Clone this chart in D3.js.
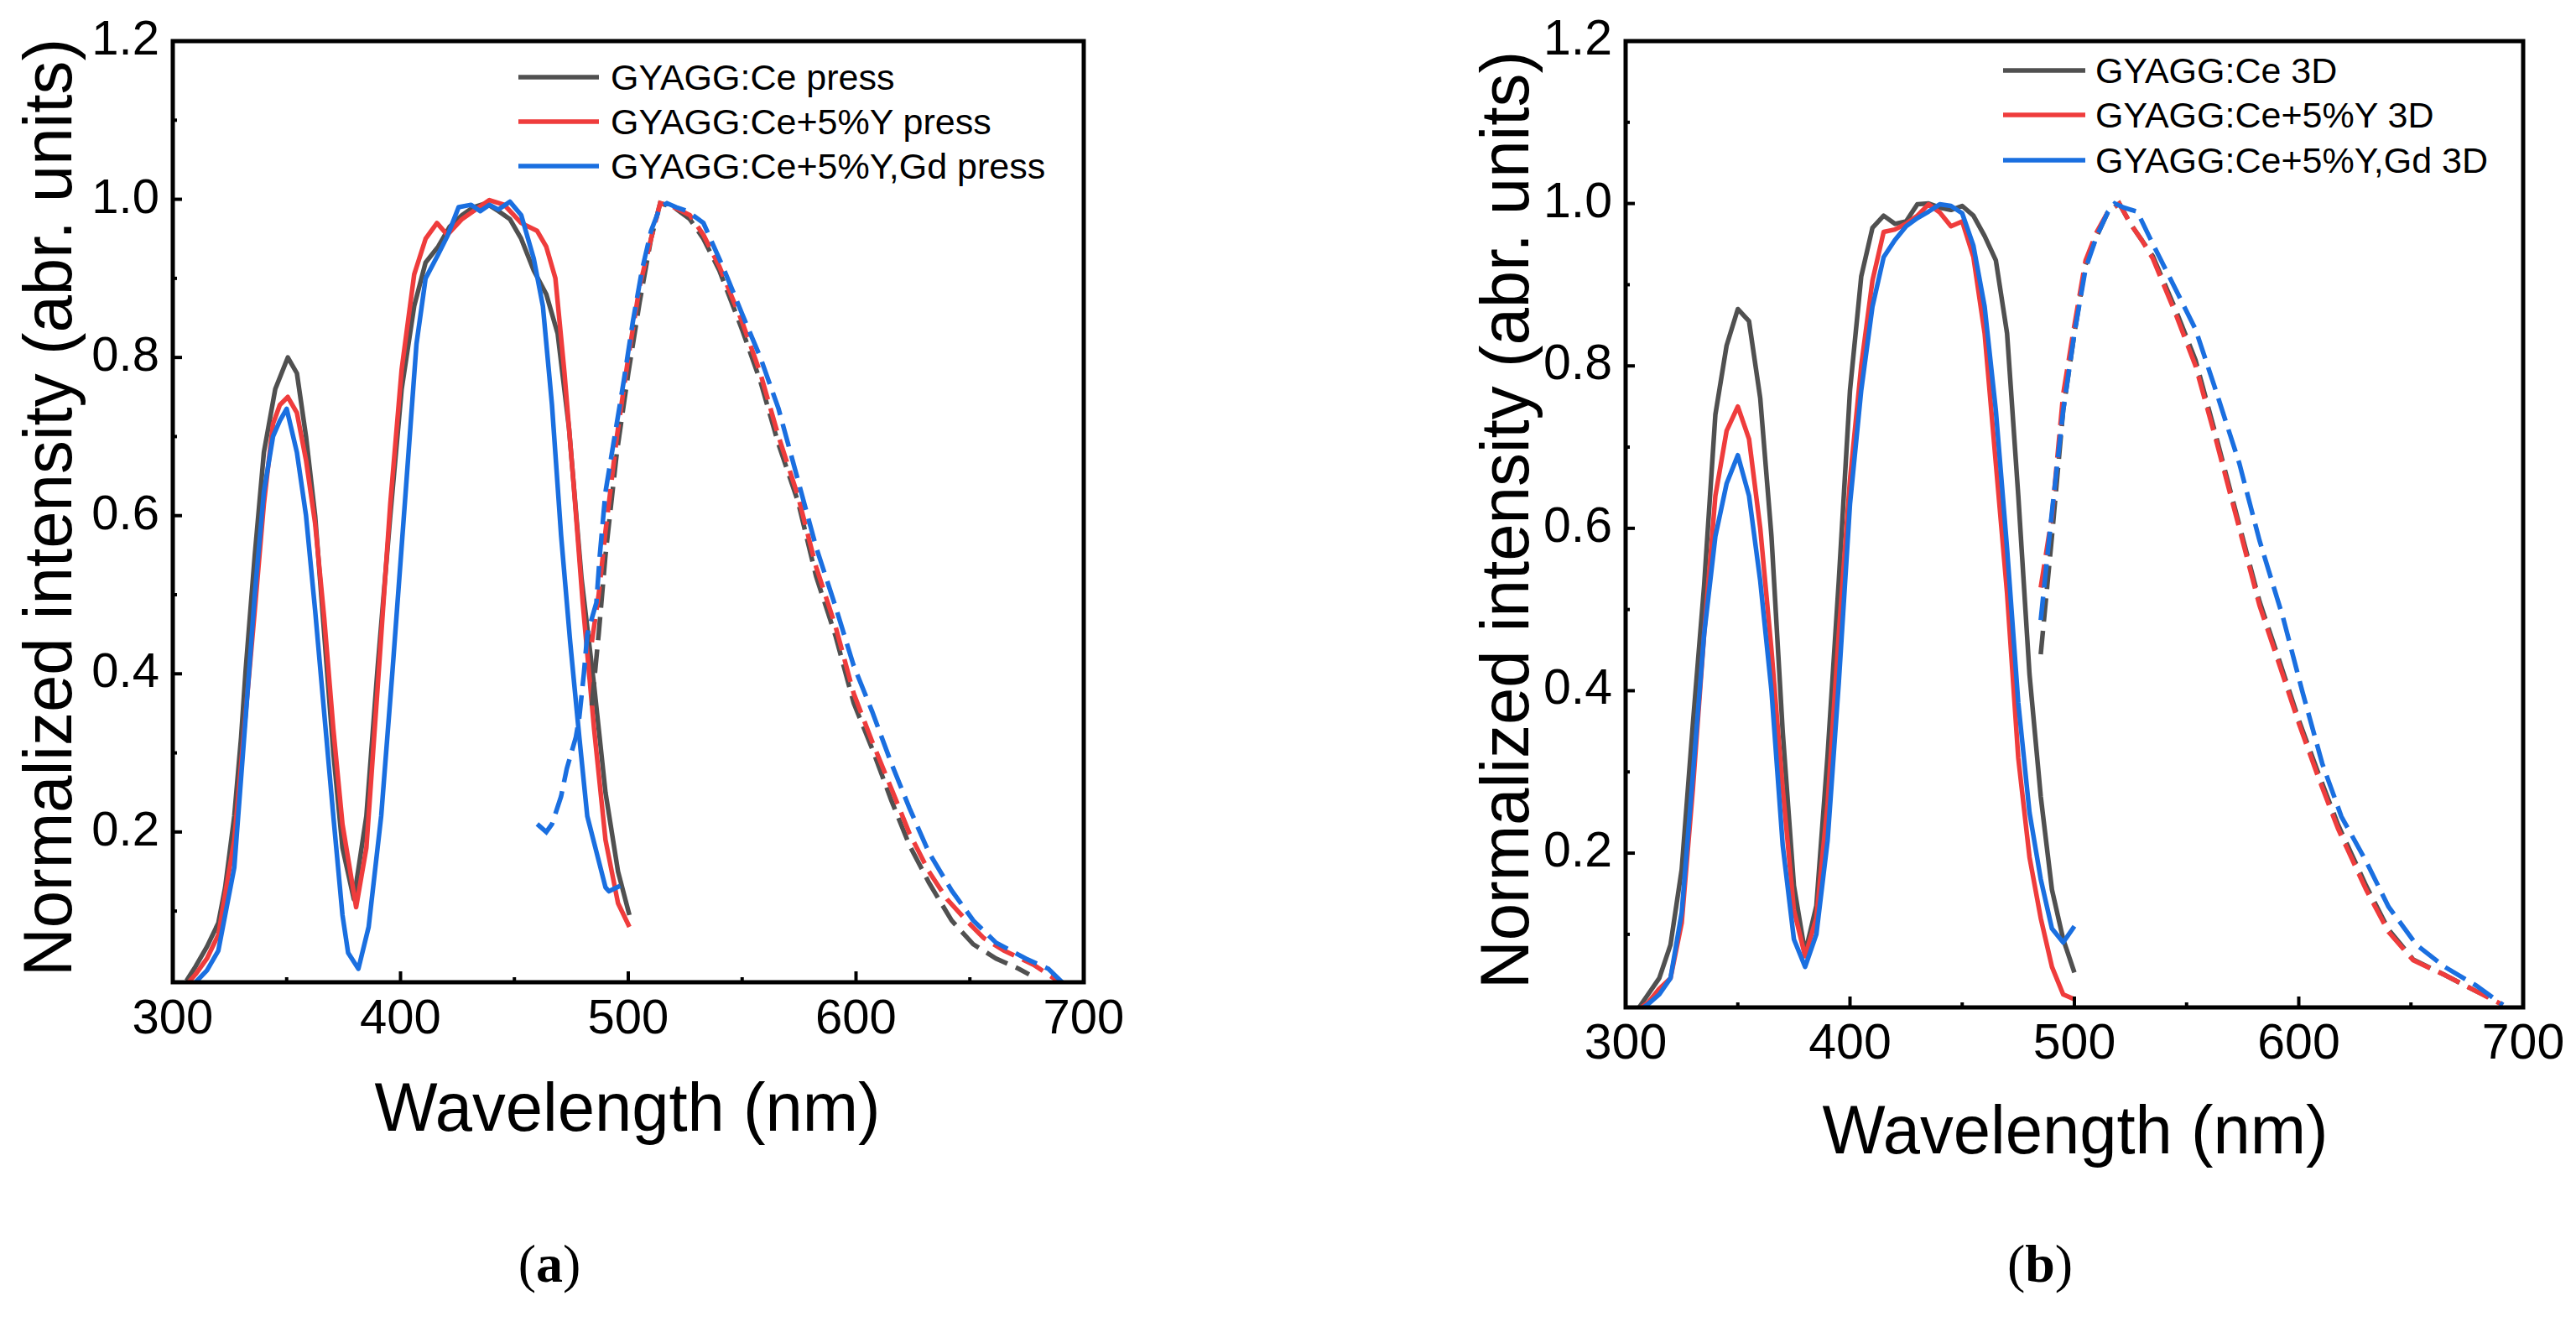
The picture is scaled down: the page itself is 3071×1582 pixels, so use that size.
<!DOCTYPE html>
<html>
<head>
<meta charset="utf-8">
<script src="https://cdn.jsdelivr.net/npm/d3@7"></script>
<style>
  html, body { margin: 0; padding: 0; background: #ffffff; }
  svg { display: block; }
</style>
</head>
<body>
<svg id="chart" width="3071" height="1582"></svg>
<script>
// ---- data: [wavelength nm, normalized intensity] ----
const pressCeExc = [[306,0.012],[310,0.03],[315,0.055],[320,0.085],[323,0.13],[327,0.22],[330,0.32],[332,0.405],[336,0.55],[340,0.68],[345,0.76],[350.5,0.80],[354.5,0.78],[358.5,0.70],[362.5,0.60],[366.5,0.45],[370.5,0.30],[374.5,0.18],[379.5,0.115],[385,0.22],[390,0.41],[395.5,0.60],[400.5,0.76],[406,0.865],[411,0.92],[416.5,0.94],[421.5,0.965],[427,0.98],[432,0.99],[437.5,0.995],[443,0.985],[448,0.975],[453,0.95],[458.5,0.91],[464,0.88],[469,0.83],[474,0.71],[479.5,0.52],[485,0.385],[490,0.25],[495.5,0.15],[500.5,0.095]];
const pressYExc = [[307,0.01],[310,0.02],[315,0.04],[320,0.07],[327,0.19],[332,0.35],[336,0.48],[340,0.615],[344,0.716],[347,0.74],[350.5,0.75],[354.5,0.73],[358.5,0.67],[362.5,0.59],[366.5,0.47],[370.5,0.33],[374.5,0.21],[380.5,0.105],[385,0.18],[390,0.385],[395.5,0.615],[400.5,0.785],[406,0.905],[411,0.95],[416,0.97],[420.5,0.955],[427,0.975],[432,0.985],[439,0.999],[445.5,0.993],[453,0.97],[460,0.96],[464,0.94],[468,0.90],[472,0.78],[476,0.64],[480,0.49],[485,0.33],[490,0.19],[495.5,0.11],[500.5,0.08]];
const pressYGdExc = [[310,0.01],[315,0.025],[320,0.05],[327,0.155],[332,0.345],[336,0.50],[340,0.63],[344,0.70],[347,0.72],[350,0.735],[354.5,0.68],[358.5,0.60],[362.5,0.48],[366.5,0.35],[370.5,0.22],[374.5,0.095],[377,0.047],[381.5,0.027],[386,0.08],[391.5,0.22],[396.5,0.405],[402,0.62],[407,0.817],[411,0.90],[416.5,0.93],[420.5,0.953],[425.5,0.99],[431,0.993],[435,0.985],[439,0.993],[443,0.987],[448,0.997],[453,0.98],[458.5,0.925],[462.5,0.865],[466.5,0.74],[470.5,0.575],[474.5,0.44],[478.5,0.32],[482,0.22],[486,0.175],[490,0.13],[491.5,0.125],[496.5,0.132]];
const pressCeEm = [[484,0.36],[487,0.45],[490,0.55],[495,0.68],[500,0.78],[505,0.87],[510,0.95],[514,0.995],[520,0.99],[527,0.975],[533,0.95],[540,0.91],[550,0.835],[558,0.77],[566,0.69],[574.5,0.618],[582.5,0.523],[591,0.448],[599,0.363],[607,0.306],[615.5,0.24],[623.5,0.183],[632,0.136],[642,0.088],[651.5,0.058],[661.5,0.04],[671.5,0.027],[676,0.02]];
const pressYEm = [[484,0.44],[487,0.50],[490,0.58],[495,0.70],[500,0.80],[505,0.89],[510,0.95],[514,0.995],[520,0.99],[527,0.98],[533,0.955],[540,0.915],[550,0.845],[558,0.78],[566,0.70],[574.5,0.625],[582.5,0.535],[591,0.46],[599,0.375],[607,0.315],[615.5,0.255],[623.5,0.198],[632,0.15],[640,0.115],[648.5,0.088],[656,0.066],[665,0.05],[678,0.032],[688.5,0.012]];
const pressYGdEm = [[460,0.21],[464,0.20],[466.5,0.21],[470.5,0.245],[473,0.28],[477,0.32],[478.5,0.345],[480.5,0.40],[482,0.45],[486,0.49],[487.5,0.55],[490,0.63],[494,0.70],[498,0.77],[502,0.845],[506,0.91],[510,0.96],[514,0.99],[517,0.995],[521,0.99],[526,0.985],[533,0.97],[541.5,0.915],[550,0.855],[558,0.80],[566,0.735],[574.5,0.645],[582.5,0.56],[591,0.485],[599,0.41],[607,0.353],[615.5,0.287],[623.5,0.23],[632,0.174],[642,0.126],[651.5,0.088],[661.5,0.06],[674.5,0.04],[684.5,0.027],[690.5,0.01]];

const d3CeExc = [[306,0.01],[310,0.026],[315,0.046],[320,0.087],[325,0.18],[330,0.36],[335,0.53],[340,0.74],[345,0.825],[350,0.87],[355,0.855],[360,0.76],[365,0.59],[370,0.35],[375,0.16],[380,0.077],[385,0.135],[390,0.32],[395,0.535],[400,0.77],[405,0.91],[410,0.97],[415,0.985],[420,0.975],[425,0.978],[430,0.999],[435,1.0],[440,0.995],[445,0.992],[450,0.997],[455,0.985],[460,0.96],[465,0.93],[470,0.84],[475,0.64],[480,0.42],[485,0.27],[490,0.155],[495,0.094],[500,0.053]];
const d3YExc = [[307,0.01],[310,0.016],[315,0.033],[320,0.046],[325,0.114],[330,0.28],[335,0.47],[340,0.64],[345,0.72],[350,0.75],[355,0.71],[360,0.60],[365,0.45],[370,0.28],[375,0.13],[380,0.073],[385,0.12],[390,0.26],[395,0.47],[400,0.66],[405,0.80],[410,0.905],[415,0.965],[420,0.968],[425,0.975],[430,0.985],[435,0.999],[440,0.989],[445,0.972],[450,0.978],[455,0.934],[460,0.84],[465,0.68],[470,0.52],[475,0.317],[480,0.195],[485,0.12],[490,0.06],[495,0.026],[500,0.02]];
const d3YGdExc = [[308,0.01],[310,0.014],[315,0.026],[320,0.046],[325,0.127],[330,0.297],[335,0.47],[340,0.59],[345,0.655],[350,0.69],[355,0.64],[360,0.535],[365,0.40],[370,0.21],[375,0.094],[380,0.06],[385,0.10],[390,0.215],[395,0.41],[400,0.63],[405,0.77],[410,0.873],[415,0.934],[420,0.955],[425,0.972],[430,0.982],[435,0.99],[440,0.999],[445,0.997],[450,0.988],[455,0.948],[460,0.873],[465,0.745],[470,0.575],[475,0.385],[480,0.25],[485,0.168],[490,0.107],[495,0.09],[500,0.11]];
const d3CeEm = [[485,0.445],[490,0.59],[495,0.745],[500,0.84],[505,0.925],[510,0.96],[515,0.99],[520,1.0],[525,0.975],[530,0.955],[535,0.935],[545,0.87],[554,0.807],[563,0.715],[573.5,0.604],[582.5,0.51],[591,0.44],[600,0.364],[608.5,0.30],[617.5,0.235],[630,0.16],[640,0.106],[651,0.069],[665,0.05],[679,0.03],[687,0.02]];
const d3YEm = [[485,0.527],[490,0.615],[495,0.765],[500,0.85],[505,0.93],[510,0.965],[515,0.99],[520,1.0],[525,0.975],[530,0.955],[535,0.932],[545,0.865],[554,0.80],[563,0.71],[573.5,0.60],[582.5,0.505],[591,0.435],[600,0.36],[608.5,0.295],[617.5,0.23],[630,0.155],[640,0.103],[651,0.068],[665,0.05],[679,0.03],[691,0.013]];
const d3YGdEm = [[485,0.487],[490,0.62],[495,0.745],[500,0.84],[505,0.92],[510,0.96],[515,0.99],[518,1.0],[522,0.995],[528,0.99],[535,0.95],[545,0.895],[554,0.845],[563,0.77],[573.5,0.68],[582.5,0.585],[593,0.49],[601.5,0.40],[610.5,0.31],[619,0.245],[630,0.19],[640,0.134],[652.5,0.087],[665,0.06],[679,0.037],[691,0.013]];

const pressLabels = ["GYAGG:Ce press", "GYAGG:Ce+5%Y press", "GYAGG:Ce+5%Y,Gd press"];
const d3Labels = ["GYAGG:Ce 3D", "GYAGG:Ce+5%Y 3D", "GYAGG:Ce+5%Y,Gd 3D"];
const xTicks = [300, 400, 500, 600, 700];
const yTicks = [0.2, 0.4, 0.6, 0.8, 1.0, 1.2];
const colors = ["#505050", "#ef3c3c", "#1a6fe0"];

const svg = d3.select("#chart");
const FONT = "Liberation Sans, Arial, sans-serif";

const panels = [
    { left: 206, right: 1292, top: 49, bottom: 1171, exc: [pressCeExc, pressYExc, pressYGdExc],
      em: [pressCeEm, pressYEm, pressYGdEm], labels: pressLabels,
      legend: { x0: 618, x1: 714, tx: 728, rows: [92, 145, 198] },
      xTitle: { x: 748, y: 1348 }, yTitle: { x: 85, y: 605 }, caption: { x: 655, y: 1528, t: "a" }, tickSize: 58 },
    { left: 1938, right: 3008, top: 49, bottom: 1201, exc: [d3CeExc, d3YExc, d3YGdExc],
      em: [d3CeEm, d3YEm, d3YGdEm], labels: d3Labels,
      legend: { x0: 2388, x1: 2486, tx: 2498, rows: [84, 137, 191] },
      xTitle: { x: 2474, y: 1375 }, yTitle: { x: 1822, y: 620 }, caption: { x: 2432, y: 1528, t: "b" }, tickSize: 59 }
];

panels.forEach((p) => {
    const x = d3.scaleLinear().domain([300, 700]).range([p.left, p.right]);
    const y = d3.scaleLinear().domain([0.01, 1.2]).range([p.bottom, p.top]);
    const g = svg.append("g");

    const line = d3.line().x((d) => x(d[0])).y((d) => y(d[1]));

    const plot = g.append("g");
    p.exc.forEach((s, i) => {
        plot.append("path").datum(s)
            .attr("d", line)
            .attr("fill", "none")
            .attr("stroke", colors[i])
            .attr("stroke-width", 5.5)
            .attr("stroke-linejoin", "round");
    });
    p.em.forEach((s, i) => {
        plot.append("path").datum(s)
            .attr("d", line)
            .attr("fill", "none")
            .attr("stroke", colors[i])
            .attr("stroke-width", 5.5)
            .attr("stroke-dasharray", "28,11");
    });

    // ticks (inward), major + minor
    const xMinor = d3.range(350, 700, 100);
    const yMinor = [0.1, 0.3, 0.5, 0.7, 0.9, 1.1];
    const ticks = g.append("g").attr("stroke", "#000").attr("stroke-width", 4);
    xTicks.forEach((t) => ticks.append("line").attr("x1", x(t)).attr("x2", x(t)).attr("y1", p.bottom).attr("y2", p.bottom - 13));
    xMinor.forEach((t) => ticks.append("line").attr("x1", x(t)).attr("x2", x(t)).attr("y1", p.bottom).attr("y2", p.bottom - 6));
    yTicks.forEach((t) => ticks.append("line").attr("x1", p.left).attr("x2", p.left + 11).attr("y1", y(t)).attr("y2", y(t)));
    yMinor.forEach((t) => ticks.append("line").attr("x1", p.left).attr("x2", p.left + 5).attr("y1", y(t)).attr("y2", y(t)));

    // frame
    g.append("rect")
        .attr("x", p.left).attr("y", p.top)
        .attr("width", p.right - p.left).attr("height", p.bottom - p.top)
        .attr("fill", "none").attr("stroke", "#000").attr("stroke-width", 5);

    // tick labels
    g.append("g").selectAll("text").data(xTicks).join("text")
        .attr("x", (d) => x(d)).attr("y", p.bottom + 61)
        .attr("text-anchor", "middle")
        .style("font-family", FONT).style("font-size", p.tickSize + "px")
        .text((d) => d);
    g.append("g").selectAll("text").data(yTicks).join("text")
        .attr("x", p.left - 16).attr("y", (d) => y(d) + 16)
        .attr("text-anchor", "end")
        .style("font-family", FONT).style("font-size", p.tickSize + "px")
        .text((d) => d.toFixed(1));

    // axis titles
    g.append("text")
        .attr("x", p.xTitle.x).attr("y", p.xTitle.y)
        .attr("text-anchor", "middle")
        .style("font-family", FONT).style("font-size", "82px")
        .attr("textLength", 603).attr("lengthAdjust", "spacingAndGlyphs")
        .text("Wavelength (nm)");
    g.append("text")
        .attr("transform", `translate(${p.yTitle.x},${p.yTitle.y}) rotate(-90)`)
        .attr("text-anchor", "middle")
        .style("font-family", FONT).style("font-size", "82px")
        .attr("textLength", 1118).attr("lengthAdjust", "spacingAndGlyphs")
        .text("Normalized intensity (abr. units)");

    // legend
    const lg = g.append("g");
    p.labels.forEach((lab, i) => {
        lg.append("line")
            .attr("x1", p.legend.x0).attr("x2", p.legend.x1)
            .attr("y1", p.legend.rows[i]).attr("y2", p.legend.rows[i])
            .attr("stroke", colors[i]).attr("stroke-width", 5.5);
        lg.append("text")
            .attr("x", p.legend.tx).attr("y", p.legend.rows[i] + 15)
            .style("font-family", FONT).style("font-size", "43px")
            .text(lab);
    });

    // caption
    const cap = g.append("text")
        .attr("x", p.caption.x).attr("y", p.caption.y)
        .attr("text-anchor", "middle")
        .style("font-family", "Liberation Serif, Times New Roman, serif").style("font-size", "64px");
    cap.append("tspan").text("(");
    cap.append("tspan").style("font-weight", "bold").text(p.caption.t);
    cap.append("tspan").text(")");
});
</script>
</body>
</html>
